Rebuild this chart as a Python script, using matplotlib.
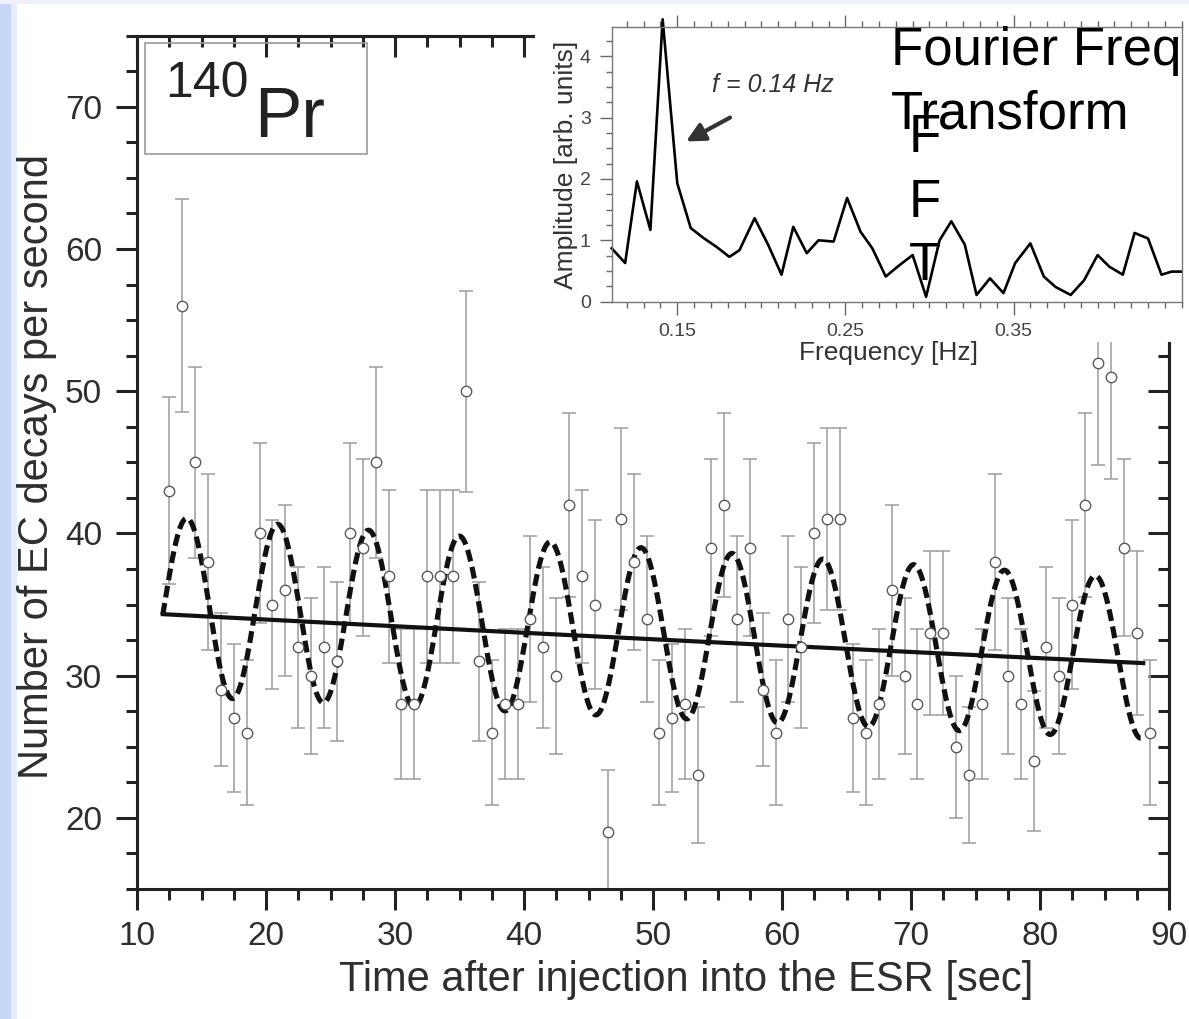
import numpy as np
import matplotlib
matplotlib.use("Agg")
import matplotlib.pyplot as plt
from matplotlib.patches import Rectangle
from matplotlib.ticker import MultipleLocator, FixedLocator

plt.rcParams['font.family'] = ['Liberation Sans', 'DejaVu Sans']

# --- data ---
t_sec = [12.5, 13.5, 14.5, 15.5, 16.5, 17.5, 18.5, 19.5, 20.5, 21.5,
         22.5, 23.5, 24.5, 25.5, 26.5, 27.5, 28.5, 29.5, 30.5, 31.5,
         32.5, 33.5, 34.5, 35.5, 36.5, 37.5, 38.5, 39.5, 40.5, 41.5,
         42.5, 43.5, 44.5, 45.5, 46.5, 47.5, 48.5, 49.5, 50.5, 51.5,
         52.5, 53.5, 54.5, 55.5, 56.5, 57.5, 58.5, 59.5, 60.5, 61.5,
         62.5, 63.5, 64.5, 65.5, 66.5, 67.5, 68.5, 69.5, 70.5, 71.5,
         72.5, 73.5, 74.5, 75.5, 76.5, 77.5, 78.5, 79.5, 80.5, 81.5,
         82.5, 83.5, 84.5, 85.5, 86.5, 87.5, 88.5]
counts = [43, 56, 45, 38, 29, 27, 26, 40, 35, 36,
          32, 30, 32, 31, 40, 39, 45, 37, 28, 28,
          37, 37, 37, 50, 31, 26, 28, 28, 34, 32,
          30, 42, 37, 35, 19, 41, 38, 34, 26, 27,
          28, 23, 39, 42, 34, 39, 29, 26, 34, 32,
          40, 41, 41, 27, 26, 28, 36, 30, 28, 33,
          33, 25, 23, 28, 38, 30, 28, 24, 32, 30,
          35, 42, 52, 51, 39, 33, 26]

# fit parameters (pure exponential and modulated exponential)
fit_t = (12.0, 88.0)
exp_N0, exp_lam = 34.9, 0.00139
mod_N0, mod_lam, mod_amp, mod_period, mod_t0 = 35.52, 0.00147, 0.18, 7.043, 13.87

# FFT inset
fft_freq = [0.111, 0.119, 0.126, 0.134, 0.1413, 0.150, 0.158, 0.166, 0.173, 0.181,
            0.187, 0.196, 0.204, 0.212, 0.219, 0.227, 0.234, 0.243, 0.251, 0.259,
            0.266, 0.274, 0.281, 0.290, 0.298, 0.306, 0.313, 0.321, 0.328, 0.336,
            0.344, 0.351, 0.360, 0.368, 0.375, 0.384, 0.392, 0.400, 0.407, 0.415,
            0.422, 0.430, 0.438, 0.444, 0.450]
fft_amp = [0.87, 0.63, 1.96, 1.17, 4.60, 1.93, 1.20, 1.03, 0.90, 0.73,
           0.84, 1.36, 0.93, 0.44, 1.22, 0.79, 1.00, 0.98, 1.69, 1.14,
           0.87, 0.41, 0.57, 0.76, 0.08, 1.00, 1.31, 0.93, 0.11, 0.38,
           0.14, 0.63, 0.95, 0.41, 0.24, 0.11, 0.35, 0.76, 0.57, 0.44,
           1.12, 1.03, 0.44, 0.49, 0.49]

W, H = 1189, 1019
txt = '#2e2e2e'

fig = plt.figure(figsize=(W / 100, H / 100), dpi=100, facecolor='white')

# slide background bits
fig.patches.append(Rectangle((0, 0), 11 / W, 1, transform=fig.transFigure,
                             fc='#c8d7f6', ec='none', zorder=-2))
fig.patches.append(Rectangle((11 / W, 0), 6 / W, 1, transform=fig.transFigure,
                             fc='#e6edfb', ec='none', zorder=-2))

ax = fig.add_axes([137 / W, 1 - 889 / H, (1169 - 137) / W, (889 - 35.6) / H])

t = np.array(t_sec)
n = np.array(counts, dtype=float)
err = np.sqrt(n)

ax.errorbar(t, n, yerr=err, fmt='none', ecolor='#9c9c9c', elinewidth=1.1,
            capsize=5, capthick=1.1, zorder=1)

tt = np.linspace(fit_t[0], fit_t[1], 1500)
ax.plot(tt, exp_N0 * np.exp(-exp_lam * tt), color='#111111', lw=3.0, zorder=2)
ax.plot(tt, mod_N0 * np.exp(-mod_lam * tt) *
        (1 + mod_amp * np.cos(2 * np.pi / mod_period * (tt - mod_t0))),
        color='#111111', lw=3.7, linestyle=(0, (2.3, 1.1)),
        dash_capstyle='butt', zorder=2)
ax.plot(t, n, 'o', ms=7.5, mfc='white', mec='#5a5a5a', mew=1.0, zorder=3)

ax.set_xlim(10, 90)
ax.set_ylim(15, 75)
ax.xaxis.set_major_locator(MultipleLocator(10))
ax.xaxis.set_minor_locator(MultipleLocator(2.5))
ax.yaxis.set_major_locator(MultipleLocator(10))
ax.yaxis.set_minor_locator(MultipleLocator(2.5))
ax.set_yticks([20, 30, 40, 50, 60, 70])
ax.tick_params(which='both', direction='out', top=False, right=False,
               colors='#222222', labelcolor=txt, labelsize=24, width=2.2)
ax.tick_params(which='major', length=15)
ax.tick_params(which='minor', length=8)
ax.tick_params(axis='x', pad=8)
ax.tick_params(axis='y', pad=10)
for s in ax.spines.values():
    s.set_linewidth(2.2)
    s.set_color('#222222')

secx = ax.secondary_xaxis('top')
secx.xaxis.set_major_locator(MultipleLocator(10))
secx.xaxis.set_minor_locator(MultipleLocator(2.5))
secx.tick_params(which='both', direction='in', labeltop=False, width=2.2, colors='#222222')
secx.tick_params(which='major', length=15)
secx.tick_params(which='minor', length=8)
secx.spines['top'].set_linewidth(2.2)

secy = ax.secondary_yaxis('right')
secy.yaxis.set_major_locator(MultipleLocator(10))
secy.yaxis.set_minor_locator(MultipleLocator(2.5))
secy.tick_params(which='both', direction='in', labelright=False, width=2.2, colors='#222222')
secy.tick_params(which='major', length=15)
secy.tick_params(which='minor', length=8)
secy.spines['right'].set_linewidth(2.2)

ax.set_xlabel('Time after injection into the ESR [sec]', fontsize=30, color=txt)
ax.xaxis.set_label_coords(0.532, -0.083)
ax.set_ylabel('Number of EC decays per second', fontsize=30, color=txt)
ax.yaxis.set_label_coords(-0.0775, 0.4945)

# isotope label box
ax.add_patch(Rectangle((10.62, 66.67), 17.21, 7.81, fill=False, ec='#9a9a9a',
                       lw=1.2, zorder=4))
ax.text(12.2, 70.68, '140', fontsize=36, color='#222222', va='baseline', zorder=5)
ax.text(19.1, 67.87, 'Pr', fontsize=51, color='#222222', va='baseline', zorder=5)

# white area under the inset
fig.patches.append(Rectangle((535 / W, 1 - 342 / H), (W - 535) / W, 342 / H,
                             transform=fig.transFigure, fc='white', ec='none', zorder=1))
fig.patches.append(Rectangle((0, 1 - 4 / H), 1, 4 / H, transform=fig.transFigure,
                             fc='#eef1fa', ec='none', zorder=1.5))

axin = fig.add_axes([611.7 / W, 1 - 301.7 / H, (1182 - 611.7) / W, (301.7 - 26.7) / H],
                    zorder=2)
axin.plot(fft_freq, fft_amp, color='black', lw=1.9, clip_on=False)
axin.set_xlim(0.111, 0.4502)
axin.set_ylim(0, 4.48)
axin.xaxis.set_major_locator(FixedLocator([0.15, 0.25, 0.35]))
axin.xaxis.set_minor_locator(MultipleLocator(0.01))
axin.yaxis.set_major_locator(MultipleLocator(1))
axin.yaxis.set_minor_locator(MultipleLocator(0.25))
axin.tick_params(which='both', direction='out', top=True, right=False,
                 colors='#666666', labelcolor='#444444', labelsize=14, width=1)
axin.tick_params(which='major', length=9, pad=6)
axin.tick_params(which='minor', length=4)
for s in axin.spines.values():
    s.set_linewidth(1)
    s.set_color('#777777')
axin.set_xlabel('Frequency [Hz]', fontsize=19, color='#333333')
axin.xaxis.set_label_coords(0.4845, -0.143)
axin.set_ylabel('Amplitude [arb. units]', fontsize=19, color='#333333')
axin.yaxis.set_label_coords(-0.059, 0.497)
axin.text(0.1705, 3.53, 'f = 0.14 Hz', fontsize=18, style='italic',
          color='#333333', va='center')
axin.annotate('', xy=(0.1552, 2.61), xytext=(0.1814, 3.0),
              arrowprops=dict(arrowstyle='-|>', lw=3, color='#333333',
                              mutation_scale=28, shrinkA=0, shrinkB=0))

# slide overlay text
fig.text(891 / W, 1 - 65 / H, 'Fourier Freq', fontsize=38, color='black',
         va='baseline', zorder=3)
fig.text(891 / W, 1 - 128.3 / H, 'Transform', fontsize=38, color='black',
         va='baseline', zorder=3)
for letter, base in zip(['F', 'F', 'T'], [151.7, 216.7, 280]):
    fig.text(909 / W, 1 - base / H, letter, fontsize=38, color='black',
             va='baseline', zorder=3)

fig.savefig('out.png', dpi=100, facecolor=fig.get_facecolor())
